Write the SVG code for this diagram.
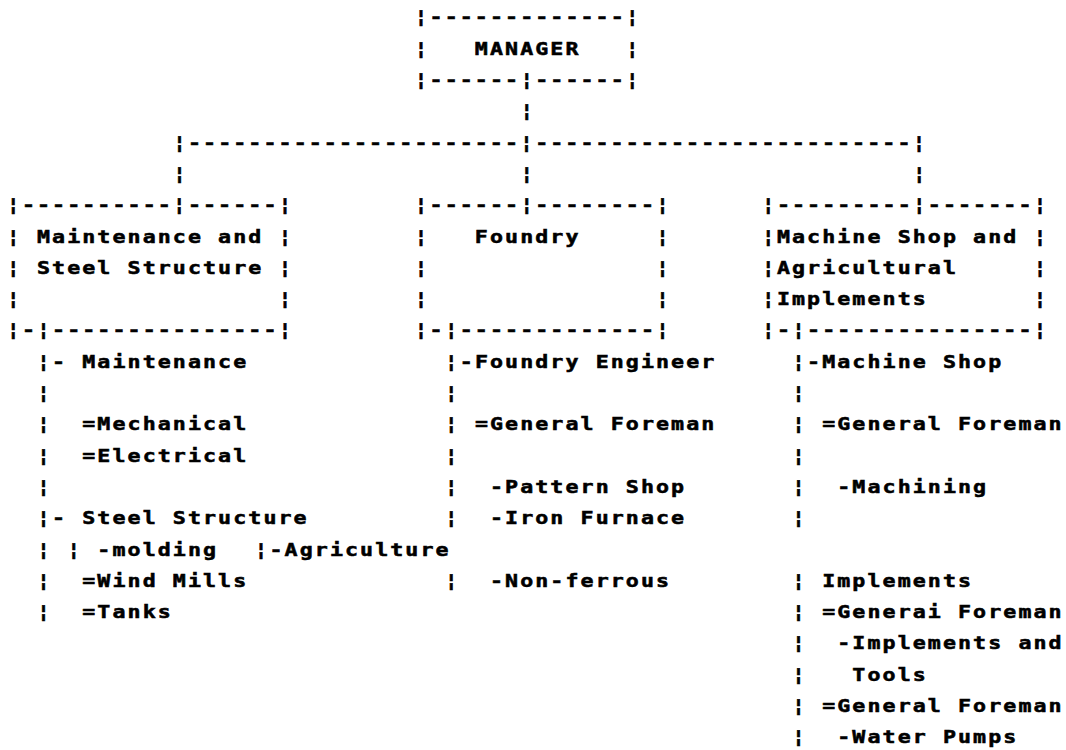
<svg xmlns="http://www.w3.org/2000/svg" width="1066" height="750" viewBox="0 0 1066 750" xml:space="preserve">
  <style>
    text { font-family: "DejaVu Sans Mono", "Liberation Mono", monospace; font-weight: bold; font-size: 18px; letter-spacing: 1.745px; fill: #000; stroke: #000; stroke-width: 0.55px; white-space: pre; }
  </style>
  <rect width="1066" height="750" fill="#fff"/>

  <!-- printout grid: 15.1px per column, 31.3px per line; glyphs widened 1.2x -->
  <g transform="scale(1.2 1)">

    <!-- top box -->
    <g id="manager">
      <text x="345.42" y="23.5">¦-------------¦</text>
      <text x="345.42" y="54.8">¦   MANAGER   ¦</text>
      <text x="345.42" y="86.1">¦------¦------¦</text>
    </g>

    <!-- tree links from the manager to the three departments -->
    <g id="connectors">
      <text x="433.5" y="117.4">¦</text>
      <text x="144.08" y="148.7">¦----------------------¦-------------------------¦</text>
      <text x="144.08" y="180">¦</text>
      <text x="433.5" y="180">¦</text>
      <text x="760.67" y="180">¦</text>
    </g>

    <!-- department boxes -->
    <g id="maintenance-steel">
      <text x="5.67" y="211.3">¦----------¦------¦</text>
      <text x="5.67" y="242.6">¦ Maintenance and ¦</text>
      <text x="5.67" y="273.9">¦ Steel Structure ¦</text>
      <text x="5.67" y="305.2">¦                 ¦</text>
      <text x="5.67" y="336.5">¦-¦---------------¦</text>
    </g>

    <g id="foundry">
      <text x="345.42" y="211.3">¦------¦--------¦</text>
      <text x="345.42" y="242.6">¦   Foundry     ¦</text>
      <text x="345.42" y="273.9">¦               ¦</text>
      <text x="345.42" y="305.2">¦               ¦</text>
      <text x="345.42" y="336.5">¦-¦-------------¦</text>
    </g>

    <g id="machine-shop">
      <text x="634.83" y="211.3">¦---------¦-------¦</text>
      <text x="634.83" y="242.6">¦Machine Shop and ¦</text>
      <text x="634.83" y="273.9">¦Agricultural     ¦</text>
      <text x="634.83" y="305.2">¦Implements       ¦</text>
      <text x="634.83" y="336.5">¦-¦---------------¦</text>
    </g>

    <!-- sections under each department -->
    <g id="maintenance-sections">
      <text x="30.83" y="367.8">¦- Maintenance</text>
      <text x="30.83" y="399.1">¦</text>
      <text x="30.83" y="430.4">¦  =Mechanical</text>
      <text x="30.83" y="461.7">¦  =Electrical</text>
      <text x="30.83" y="493">¦</text>
      <text x="30.83" y="524.3">¦- Steel Structure</text>
      <text x="30.83" y="555.6">¦ ¦ -molding</text>
      <text x="212.03" y="555.6">¦-Agriculture</text>
      <text x="30.83" y="586.9">¦  =Wind Mills</text>
      <text x="30.83" y="618.2">¦  =Tanks</text>
    </g>

    <g id="foundry-sections">
      <text x="370.58" y="367.8">¦-Foundry Engineer</text>
      <text x="370.58" y="399.1">¦</text>
      <text x="370.58" y="430.4">¦ =General Foreman</text>
      <text x="370.58" y="461.7">¦</text>
      <text x="370.58" y="493">¦  -Pattern Shop</text>
      <text x="370.58" y="524.3">¦  -Iron Furnace</text>
      <text x="370.58" y="586.9">¦  -Non-ferrous</text>
    </g>

    <g id="machine-shop-sections">
      <text x="660" y="367.8">¦-Machine Shop</text>
      <text x="660" y="399.1">¦</text>
      <text x="660" y="430.4">¦ =General Foreman</text>
      <text x="660" y="461.7">¦</text>
      <text x="660" y="493">¦  -Machining</text>
      <text x="660" y="524.3">¦</text>
      <text x="660" y="586.9">¦ Implements</text>
      <text x="660" y="618.2">¦ =Generai Foreman</text>
      <text x="660" y="649.5">¦  -Implements and</text>
      <text x="660" y="680.8">¦   Tools</text>
      <text x="660" y="712.1">¦ =General Foreman</text>
      <text x="660" y="743.4">¦  -Water Pumps</text>
    </g>

  </g>
</svg>
